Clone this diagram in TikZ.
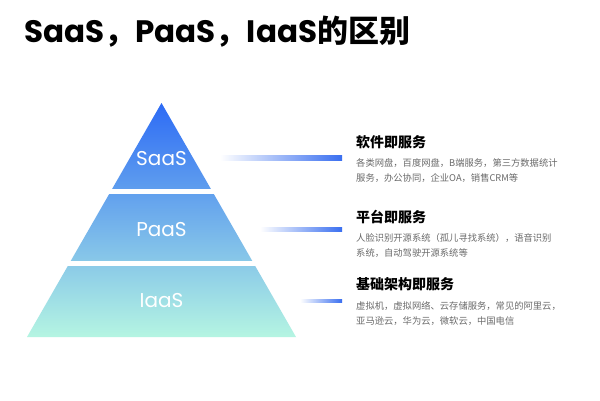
\documentclass[tikz,border=0pt]{standalone}
\usepackage{fontspec}
\usetikzlibrary{calc}
\setmainfont{Poppins}
\newfontfamily\cjk{Noto Sans CJK SC}
\definecolor{topblue}{HTML}{2D6BF5}
\definecolor{basemint}{HTML}{B5F5E2}
\definecolor{lineblue}{HTML}{3A6FF0}
\definecolor{linemint}{HTML}{BFF3E6}
\definecolor{descgrey}{HTML}{6A6A6A}
\tikzset{
  tier/.style={text=white, font=\fontsize{20}{21}\selectfont, inner sep=0pt},
  headtext/.style={anchor=west, inner sep=0pt, font=\cjk\bfseries\fontsize{14}{16}\selectfont},
  desctext/.style={anchor=west, inner sep=0pt, align=left, text=descgrey, font=\cjk\fontsize{9.3}{15}\selectfont},
  gap/.style={fill=white}
}
\begin{document}
\begin{tikzpicture}[x=1pt, y=-1pt]
  \useasboundingbox[fill=white] (0,0) rectangle (600,400);

  % title
  \node[anchor=west, inner sep=0pt, font=\bfseries\fontsize{31}{33}\selectfont] (title) at (24,32)
    {SaaS{\cjk ，}PaaS{\cjk ，}IaaS{\cjk 的区别}};

  % pyramid
  \coordinate (apex) at (161.5,103);
  \coordinate (bl) at (27,337);
  \coordinate (br) at (296,337);
  \shade[top color=topblue, bottom color=basemint] (apex) -- (bl) -- (br) -- cycle;
  \fill[gap] (20,188.5) rectangle (300,193.5);
  \fill[gap] (20,261) rectangle (300,266);

  \node[tier] (saas) at (161.5,159) {SaaS};
  \node[tier] (paas) at (161.5,230) {PaaS};
  \node[tier] (iaas) at (161.5,301) {IaaS};

  % right side texts
  \node[headtext] (h1) at (356,142) {软件即服务};
  \node[desctext] (d1) at (356,170.5) {各类网盘，百度网盘，B端服务，第三方数据统计\\服务，办公协同，企业OA，销售CRM等};
  \node[headtext] (h2) at (356,217) {平台即服务};
  \node[desctext] (d2) at (356,246) {人脸识别开源系统（孤儿寻找系统），语音识别\\系统，自动驾驶开源系统等};
  \node[headtext] (h3) at (356,284) {基础架构即服务};
  \node[desctext] (d3) at (356,314) {虚拟机，虚拟网络、云存储服务，常见的阿里云，\\亚马逊云，华为云，微软云，中国电信};

  % connectors
  \shade[left color=white, middle color=linemint, right color=lineblue]
    (220,155.5) rectangle ($(h1.west |- saas)+(-14,1.5)$);
  \shade[left color=white, middle color=linemint, right color=lineblue]
    (260,227.5) rectangle ($(h2.west |- paas)+(-14,1.5)$);
  \shade[left color=white, middle color=linemint, right color=lineblue]
    (300,299.5) rectangle ($(h3.west |- iaas)+(-14,1.5)$);
\end{tikzpicture}
\end{document}
